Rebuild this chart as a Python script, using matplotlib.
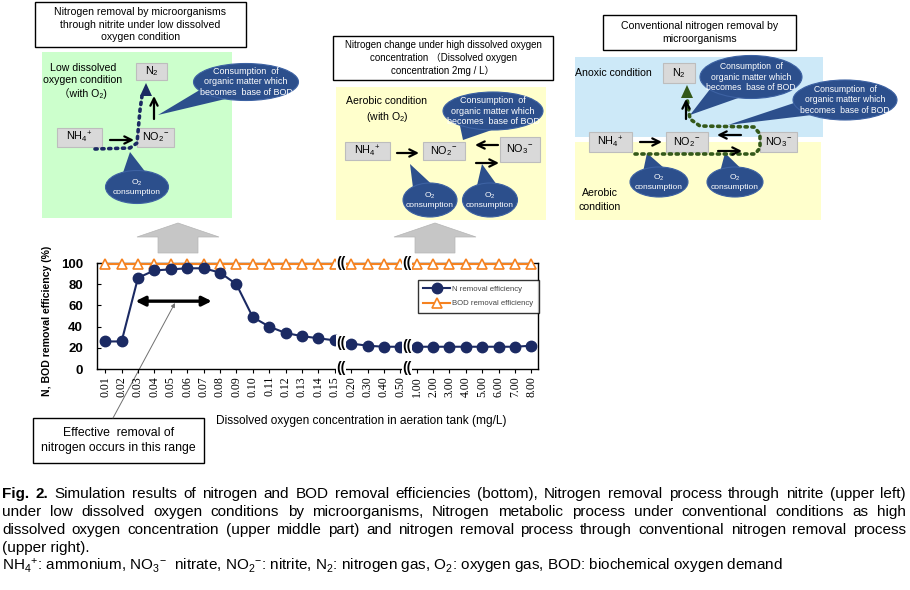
"""
Fig. 2 - N / BOD removal efficiency vs dissolved oxygen, with process sketches
"""
import numpy as np
import matplotlib
matplotlib.use('Agg')
import matplotlib.pyplot as plt
from matplotlib.patches import Rectangle, Ellipse, Polygon

plt.rcParams['font.family'] = ['Liberation Sans', 'Noto Sans CJK JP', 'DejaVu Sans']
plt.rcParams['mathtext.fontset'] = 'custom'
plt.rcParams['mathtext.rm'] = 'Liberation Sans'
plt.rcParams['mathtext.it'] = 'Liberation Sans:italic'
plt.rcParams['mathtext.bf'] = 'Liberation Sans:bold'

# data
do_labels = ['0.01', '0.02', '0.03', '0.04', '0.05', '0.06', '0.07', '0.08', '0.09',
             '0.10', '0.11', '0.12', '0.13', '0.14', '0.15', '0.20', '0.30', '0.40',
             '0.50', '1.00', '2.00', '3.00', '4.00', '5.00', '6.00', '7.00', '8.00']
n_removal = [26, 26, 86, 93, 94, 95, 95, 91, 80, 49, 40, 34, 31, 29, 27,
             24, 22, 21, 21, 21, 21, 21, 21, 21, 21, 21, 22]
bod_removal = [99, 99, 99, 99, 99, 99, 99, 99, 99, 99, 99, 99, 99, 99, 99,
               99, 99, 99, 99, 99, 99, 99, 99, 99, 99, 99, 99]
breaks = [14.4, 18.4]
effective_range = [1.85, 6.5]

navy = '#1b2a63'
orange = '#f58220'
bubble = '#2c4f8c'
gbox = '#d9d9d9'

fig = plt.figure(figsize=(9.1, 5.9), dpi=100)

# overlay in pixel units for the sketches
ov = fig.add_axes([0, 0, 1, 1])
ov.set_xlim(0, 910)
ov.set_ylim(590, 0)
ov.axis('off')


def rect(x0, y0, x1, y1, fc, ec='none', lw=1.0, z=1):
    ov.add_patch(Rectangle((x0, y0), x1 - x0, y1 - y0, facecolor=fc, edgecolor=ec, lw=lw, zorder=z))


def titlebox(x0, y0, x1, y1, txt, fs):
    rect(x0, y0, x1, y1, 'white', 'black', 1.0, 2)
    ov.text((x0 + x1) / 2, (y0 + y1) / 2, txt, ha='center', va='center', fontsize=fs,
            linespacing=1.3, zorder=3)


def chem(x0, y0, x1, y1, txt, fs=7.8):
    rect(x0, y0, x1, y1, gbox, '#bdbdbd', 0.8, 3)
    ov.text((x0 + x1) / 2, (y0 + y1) / 2, txt, ha='center', va='center', fontsize=fs, zorder=4)


def callout(cx, cy, w, h, tip, txt, fs=6.2):
    ang = np.arctan2((tip[1] - cy) / (h / 2), (tip[0] - cx) / (w / 2))
    pts = [(cx + w / 2 * np.cos(ang - 0.35), cy + h / 2 * np.sin(ang - 0.35)), tip,
           (cx + w / 2 * np.cos(ang + 0.35), cy + h / 2 * np.sin(ang + 0.35))]
    ov.add_patch(Polygon(pts, closed=True, facecolor=bubble, edgecolor='none', zorder=5))
    ov.add_patch(Ellipse((cx, cy), w, h, facecolor=bubble, edgecolor='#3d62a3', lw=0.8, zorder=5))
    ov.text(cx, cy, txt, ha='center', va='center', fontsize=fs, color='white',
            linespacing=1.15, zorder=6)


def arrow(x0, y0, x1, y1):
    ov.annotate('', xy=(x1, y1), xytext=(x0, y0), zorder=6,
                arrowprops=dict(arrowstyle='->', lw=1.6, color='black', mutation_scale=13,
                                shrinkA=0, shrinkB=0))


def dotted(pts, head, color):
    xs, ys = zip(*pts)
    ov.plot(xs, ys, color=color, lw=2.6, linestyle=(0, (0.6, 1.3)), dash_capstyle='round', zorder=6)
    ov.add_patch(Polygon(head, closed=True, facecolor=color, edgecolor='none', zorder=6))


def up_arrow(cx):
    pts = [(cx, 223), (cx + 41, 237), (cx + 20, 237), (cx + 20, 253),
           (cx - 20, 253), (cx - 20, 237), (cx - 41, 237)]
    ov.add_patch(Polygon(pts, closed=True, facecolor='#c6c6c6', edgecolor='#b5b5b5', lw=0.5, zorder=1))


bod_txt = 'Consumption  of\norganic matter which\nbecomes  base of BOD'
o2_txt = 'O$_2$\nconsumption'

# ---- left sketch: low DO
titlebox(35, 2, 246, 47, 'Nitrogen removal by microorganisms\nthrough nitrite under low dissolved\noxygen condition', 7.6)
rect(42, 52, 232, 218, '#ccffcc')
ov.text(83, 81, 'Low dissolved\noxygen condition\n（with O₂)', ha='center', va='center', fontsize=7.6,
        linespacing=1.35, zorder=3)
chem(136, 63, 167, 80, 'N$_2$')
chem(57, 128, 102, 147, 'NH$_4$$^{+}$')
chem(137, 128, 174, 147, 'NO$_2$$^{-}$')
dotted([(95, 149), (130, 148), (137, 143), (140, 110), (142, 96)],
       [(146, 83), (140, 96), (152, 96)], navy)
arrow(110, 140, 134, 140)
arrow(154, 119, 154, 96)
callout(137, 187, 63, 33, (130, 152), o2_txt, 6)
callout(246, 82, 105, 37, (158, 115), bod_txt, 6.5)
up_arrow(178)

# ---- middle sketch: high DO
titlebox(333, 36, 553, 80, 'Nitrogen change under high dissolved oxygen\nconcentration （Dissolved oxygen\nconcentration 2mg / L）', 7)
rect(336, 87, 546, 220, '#ffffcc')
ov.text(387, 110, 'Aerobic condition\n(with O$_2$)', ha='center', va='center', fontsize=7.6,
        linespacing=1.4, zorder=3)
chem(345, 142, 390, 160, 'NH$_4$$^{+}$')
chem(423, 142, 465, 160, 'NO$_2$$^{-}$')
chem(500, 137, 540, 162, 'NO$_3$$^{-}$')
arrow(397, 153, 419, 153)
arrow(498, 145, 475, 145)
arrow(476, 163, 499, 163)
callout(493, 111, 100, 38, (463, 140), bod_txt, 6.5)
callout(430, 200, 54, 34, (410, 164), o2_txt, 6)
callout(490, 200, 55, 34, (482, 164), o2_txt, 6)
up_arrow(435)

# ---- right sketch: conventional
titlebox(603, 15, 796, 50, 'Conventional nitrogen removal by\nmicroorganisms', 7.6)
rect(575, 57, 823, 137, '#cde9f8')
rect(575, 142, 821, 220, '#ffffcc')
ov.text(575, 73, 'Anoxic condition', ha='left', va='center', fontsize=7.6, zorder=3)
ov.text(600, 200, 'Aerobic\ncondition', ha='center', va='center', fontsize=7.6, linespacing=1.4, zorder=3)
chem(663, 63, 695, 83, 'N$_2$')
chem(589, 132, 632, 152, 'NH$_4$$^{+}$')
chem(666, 132, 708, 152, 'NO$_2$$^{-}$')
chem(760, 132, 797, 152, 'NO$_3$$^{-}$')
dotted([(635, 154), (755, 154), (760, 148), (760, 134), (754, 127), (700, 126), (690, 119), (687, 98)],
       [(687, 85), (681, 98), (693, 98)], '#34591a')
arrow(640, 142, 662, 142)
arrow(741, 135, 717, 135)
arrow(718, 151, 742, 151)
arrow(686, 119, 686, 99)
callout(751, 77, 102, 43, (690, 115), bod_txt)
callout(845, 100, 104, 40, (728, 125), bod_txt)
callout(659, 182, 58, 30, (647, 153), o2_txt, 6)
callout(735, 182, 56, 30, (725, 153), o2_txt, 6)

# ---- chart
ax = fig.add_axes([97 / 910, 1 - 369 / 590, (538 - 97) / 910, (369 - 263) / 590])
ax.patch.set_alpha(0)
x = np.arange(len(do_labels))
ax.plot(x, bod_removal, '-^', color=orange, mfc='white', mec=orange, ms=7.5, mew=1.2, lw=1.5,
        label='BOD removal efficiency', clip_on=False, zorder=3)
ax.plot(x, n_removal, '-o', color=navy, mfc=navy, mec=navy, ms=7.5, lw=1.5,
        label='N removal efficiency', clip_on=False, zorder=4)
ax.set_xlim(-0.5, 26.4)
ax.set_ylim(0, 100)
ax.set_yticks([0, 20, 40, 60, 80, 100])
ax.set_xticks(x)
ax.set_xticklabels(do_labels, rotation=90, fontfamily='Liberation Serif', fontsize=8.5)
for lab in ax.get_yticklabels():
    lab.set_fontsize(9.5)
    lab.set_fontweight('bold')
ax.tick_params(axis='y', direction='in', length=3, pad=10)
ax.tick_params(axis='x', direction='out', length=3, pad=2)
for s in ax.spines.values():
    s.set_linewidth(1.0)
ax.set_ylabel('N, BOD removal efficiency (%)', fontsize=7.6, fontweight='bold')
ax.yaxis.set_label_coords(-0.103, 0.45)
ax.set_xlabel('Dissolved oxygen concentration in aeration tank (mg/L)', fontsize=8.6)
ax.xaxis.set_label_coords(0.6, -0.43)

h, l = ax.get_legend_handles_labels()
leg = ax.legend(h[::-1], l[::-1], loc='upper left', bbox_to_anchor=(414 / 910, 1 - 276 / 590),
                bbox_transform=fig.transFigure, fontsize=5.6, frameon=True, fancybox=False,
                edgecolor='black', borderpad=0.7, handlelength=3.4, labelspacing=0.9,
                handletextpad=0.3)
leg.get_frame().set_linewidth(1.0)
for t in leg.get_texts():
    t.set_color('#444444')

# axis breaks
for bx, my in zip(breaks, [25, 21.5]):
    for by in [100, my, 1]:
        ax.text(bx, by, '((', ha='center', va='center', fontsize=10, fontweight='bold', zorder=6,
                clip_on=False, bbox=dict(facecolor='white', edgecolor='none', pad=0.2))

# effective range arrow
ax.annotate('', xy=(effective_range[1], 64), xytext=(effective_range[0], 64),
            arrowprops=dict(arrowstyle='<|-|>', lw=2.4, color='black', mutation_scale=14,
                            shrinkA=0, shrinkB=0))
ov.annotate('', xy=(175, 303), xytext=(113, 418), zorder=7,
            arrowprops=dict(arrowstyle='-|>', lw=0.7, color='#707070', mutation_scale=6,
                            shrinkA=0, shrinkB=0))
rect(33, 418, 204, 463, 'white', 'black', 1.0, 2)
ov.text(118.5, 440.5, 'Effective  removal of\nnitrogen occurs in this range', ha='center', va='center',
        fontsize=8.8, linespacing=1.35, zorder=3)

# ---- caption, justified
cap_lines = [
    'Fig. 2. Simulation results of nitrogen and BOD removal efficiencies (bottom), Nitrogen removal process through nitrite (upper left)',
    'under low dissolved oxygen conditions by microorganisms, Nitrogen metabolic process under conventional conditions as high',
    'dissolved oxygen concentration (upper middle part) and nitrogen removal process through conventional nitrogen removal process',
]
cap_y = [494, 512, 530]
cap_fs = 11
fig.canvas.draw()
renderer = fig.canvas.get_renderer()
for k, (line, y) in enumerate(zip(cap_lines, cap_y)):
    words = line.split(' ')
    objs = []
    for i, w in enumerate(words):
        bold = (k == 0 and i < 2)
        objs.append(ov.text(0, y, w, fontsize=cap_fs, fontweight='bold' if bold else 'normal',
                            va='center', ha='left'))
    widths = [t.get_window_extent(renderer).width for t in objs]
    gap = max((906 - 2 - sum(widths)) / (len(words) - 1), 2)
    xpos = 2
    for t, wd in zip(objs, widths):
        t.set_x(xpos)
        xpos += wd + gap
ov.text(2, 548, '(upper right).', fontsize=cap_fs, va='center', ha='left')
ov.text(2, 566, 'NH$_4$$^{+}$: ammonium, NO$_3$$^{-}$  nitrate, NO$_2$$^{-}$: nitrite, N$_2$: nitrogen gas, '
        'O$_2$: oxygen gas, BOD: biochemical oxygen demand', fontsize=cap_fs, va='center', ha='left')

fig.savefig('out.png', dpi=100)
